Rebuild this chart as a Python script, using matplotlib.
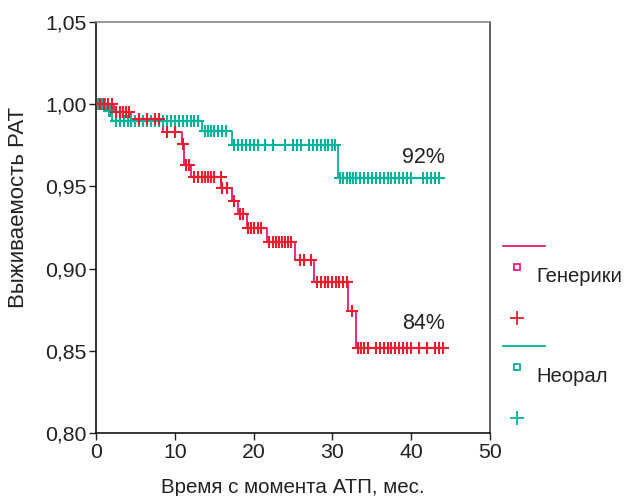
import numpy as np
import matplotlib
matplotlib.use('Agg')
import matplotlib.pyplot as plt
from matplotlib.lines import Line2D

plt.rcParams['font.family'] = ['Liberation Sans', 'DejaVu Sans']

# Generics: step times (months) and survival
gen_t = [0, 2.3, 4.5, 8.5, 10.9, 11.2, 12.1, 15.9, 17.2, 18.0, 19.1, 21.7, 25.3, 27.7, 32.0, 33.0, 44.0]
gen_s = [1.000, 0.995, 0.991, 0.983, 0.976, 0.963, 0.956, 0.949, 0.941, 0.933, 0.925, 0.916, 0.905, 0.892, 0.874, 0.852, 0.852]
gen_cens = [0.5, 1.0, 1.5, 2.0, 2.6, 3.0, 3.4, 3.8, 4.2, 5.5, 6.5, 7.5, 8.0, 9.0, 10.0, 11.0,
            11.4, 11.8, 12.5, 13.0, 13.4, 13.8, 14.2, 14.6, 15.0, 15.8, 16.0, 16.6, 17.5, 18.3, 18.6,
            19.3, 19.7, 20.1, 20.6, 21.0, 22.0, 22.4, 22.8, 23.2, 23.6, 24.0, 24.4, 24.8,
            25.9, 26.4, 27.3, 28.0, 28.5, 29.0, 29.5, 30.0, 30.4, 30.8, 31.3, 31.8, 32.5,
            33.2, 33.6, 34.0, 34.5, 35.5, 36.0, 36.5, 37.0, 37.5, 38.0, 38.5, 39.0, 39.5, 40.0,
            41.0, 42.0, 43.0, 43.5, 44.0]

# Neoral
neo_t = [0, 1.4, 2.0, 13.4, 17.2, 30.7, 43.9]
neo_s = [1.000, 0.996, 0.990, 0.984, 0.975, 0.955, 0.955]
neo_cens = [0.3, 0.6, 0.9, 1.2, 1.6, 1.8, 2.5, 3.0, 3.5, 4.0, 4.5, 5.0, 5.5, 6.0, 6.5, 7.0, 7.5,
            8.0, 8.5, 9.0, 9.5, 10.0, 10.5, 11.0, 11.5, 12.0, 12.5, 13.0, 13.8, 14.2, 14.6, 15.0,
            15.5, 16.0, 16.5, 17.5, 18.0, 18.5, 19.0, 19.5, 20.0, 20.5, 21.5, 22.5, 24.0, 25.0,
            25.5, 26.0, 27.0, 27.5, 28.0, 28.5, 29.0, 29.5, 30.0, 30.3, 31.0, 31.4, 31.8, 32.2,
            32.6, 33.0, 33.5, 34.0, 34.5, 35.0, 35.5, 36.0, 36.5, 37.0, 37.5, 38.0, 38.5, 39.0,
            39.5, 40.0, 41.5, 42.0, 42.5, 43.0, 43.5]

labels = ['Генерики', 'Неорал']
pct = ['84%', '92%']

c_gen_line = '#e6197d'
c_gen_mark = '#ec1c2c'
c_neo = '#00b39b'


def surv_at(t, st, ss):
    idx = np.searchsorted(st, t, side='right') - 1
    return np.array(ss)[idx]


fig = plt.figure(figsize=(6.25, 4.96), dpi=100)
ax = fig.add_axes([96/625, 1-433/496, (490-96)/625, (433-22)/496])

ax.step(neo_t, neo_s, where='post', color=c_neo, lw=1.3, zorder=2)
ax.plot(neo_cens, surv_at(np.array(neo_cens), neo_t, neo_s), ls='none', marker='+',
        color=c_neo, ms=9, mew=1.5, zorder=3)
ax.step(gen_t, gen_s, where='post', color=c_gen_line, lw=1.3, zorder=2)
ax.plot(gen_cens, surv_at(np.array(gen_cens), gen_t, gen_s), ls='none', marker='+',
        color=c_gen_mark, ms=9, mew=1.5, zorder=3)

ax.text(41.6, 0.9675, pct[1], fontsize=15.5, ha='center', va='center', color='#222222')
ax.text(41.6, 0.8665, pct[0], fontsize=15.5, ha='center', va='center', color='#222222')

ax.set_xlim(0, 50)
ax.set_ylim(0.80, 1.05)
ax.set_xticks([0, 10, 20, 30, 40, 50])
ax.set_yticks([0.80, 0.85, 0.90, 0.95, 1.00, 1.05])
ax.set_yticklabels(['0,80', '0,85', '0,90', '0,95', '1,00', '1,05'])
ax.tick_params(labelsize=15.3, length=5, width=1, colors='#222222', pad=2)
ax.set_xlabel('Время с момента АТП, мес.', fontsize=14.8, color='#222222', labelpad=12)
ax.set_ylabel('Выживаемость РАТ', fontsize=16, color='#222222')
ax.yaxis.set_label_coords(-0.17, 0.55)
ax.spines['left'].set_color('#111111')
ax.spines['bottom'].set_color('#111111')
ax.spines['top'].set_color('#888888')
ax.spines['right'].set_color('#444444')
for s in ax.spines.values():
    s.set_linewidth(1.2)

# legend drawn in figure pixel coordinates
H = 496
def fy(y):
    return 1 - y / H

for i, (lc, mc, ytop) in enumerate([(c_gen_line, c_gen_mark, 246), (c_neo, c_neo, 346)]):
    fig.add_artist(Line2D([503/625, 545/625], [fy(ytop), fy(ytop)], color=lc, lw=1.3,
                          transform=fig.transFigure))
    fig.add_artist(Line2D([517/625], [fy(ytop + 21)], marker='s', ms=5, mfc='none', mec=lc,
                          mew=1.3, ls='none', transform=fig.transFigure))
    fig.text(536/625, fy(ytop + 31), labels[i], fontsize=14.6, va='center', ha='left',
             color='#222222')
    fig.add_artist(Line2D([517/625], [fy(ytop + 72)], marker='+', ms=10, mec=mc,
                          mew=1.3, ls='none', transform=fig.transFigure))

fig.savefig('out.png', dpi=100)
